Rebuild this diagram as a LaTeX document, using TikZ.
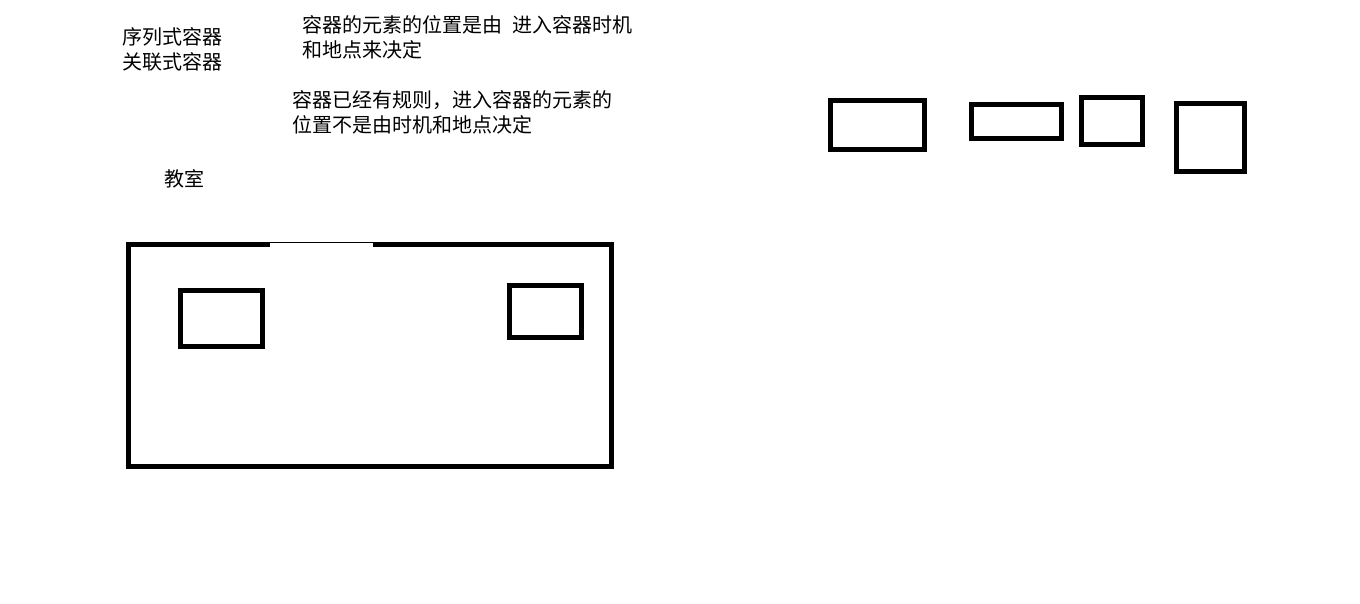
\documentclass[tikz,border=0pt]{standalone}
\usepackage{fontspec}
\setmainfont{Noto Sans CJK SC}

\tikzset{
  thickbox/.style={line width=5pt},
  cnlabel/.style={anchor=north west,inner sep=0pt,align=left,font=\fontsize{20}{25.5}\selectfont}
}

\begin{document}
\begin{tikzpicture}[x=1pt,y=-1pt]

\useasboundingbox[fill=white] (0,0) rectangle (1360,604);

\node[cnlabel] (kinds) at (122,27) {序列式容器\\关联式容器};

\node[cnlabel] (seqnote) at (302,15) {容器的元素的位置是由\hspace{0.5em}进入容器时机\\和地点来决定};

\node[cnlabel] (assocnote) at (292,90) {容器已经有规则，进入容器的元素的\\位置不是由时机和地点决定};

\node[cnlabel] (room) at (164,169) {教室};


\draw[thickbox] (373,244.5) -- (611.5,244.5) -- (611.5,466.5) -- (128.5,466.5) -- (128.5,244.5) -- (270,244.5);

\draw[line width=1pt] (270,242.5) -- (373,242.5);

\draw[thickbox] (180.5,290.5) rectangle (262.5,346);

\draw[thickbox] (509.5,285) rectangle (581.5,337.5);


\draw[thickbox] (830.5,100.5) rectangle (924.5,149.5);

\draw[thickbox] (971.5,104.5) rectangle (1061.5,138.5);

\draw[thickbox] (1081.5,97.5) rectangle (1142.5,144.5);

\draw[thickbox] (1176.5,103.5) rectangle (1244.5,171.5);

\end{tikzpicture}
\end{document}
